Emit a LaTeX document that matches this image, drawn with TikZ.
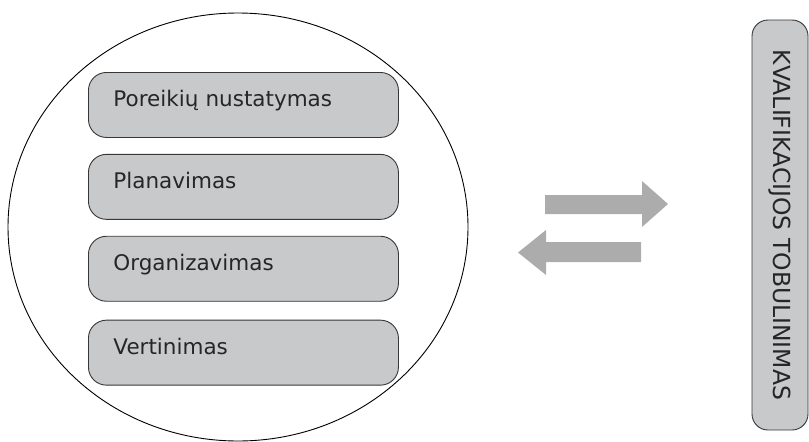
\documentclass[tikz,border=0pt]{standalone}
\usepackage{fontspec}
\setmainfont{DejaVu Sans}
\usepackage{tikz}
\usetikzlibrary{positioning,shapes.geometric}
\usepackage{xcolor}
\definecolor{boxgray}{RGB}{200,201,203}
\definecolor{edgegray}{RGB}{55,55,55}
\definecolor{arrowgray}{RGB}{172,172,172}

\begin{document}
\begin{tikzpicture}[x=1pt, y=-1pt, node distance=16pt,
  stage/.style={draw=edgegray, fill=boxgray, rounded corners=18pt, line width=0.9pt,
    minimum height=65pt, text width=260pt, inner xsep=25pt, inner ysep=0pt,
    align=left, text height=0.6em, text depth=0.25em, text=black!85,
    font=\fontsize{21.5}{24}\selectfont},
  goal/.style={draw=edgegray, fill=boxgray, rounded corners=16pt, line width=0.9pt,
    minimum width=410pt, minimum height=56pt, inner sep=0pt, text=black!85,
    font=\fontsize{23.5}{26}\selectfont},
  flow/.style={fill=arrowgray}]
\useasboundingbox (0,0) rectangle (809,442);
\node[draw, ellipse, line width=0.9pt, minimum width=460pt, minimum height=428pt,
  inner sep=0pt] (cycle) at (238,227) {};
\node[stage, anchor=north west] (needs) at (88,72) {Poreikių nustatymas};
\node[stage, below=of needs] (plan) {Planavimas};
\node[stage, below=of plan] (organise) {Organizavimas};
\node[stage, below=18pt of organise] (assess) {Vertinimas};
\node[goal, rotate=-90] (growth) at (780,225) {KVALIFIKACIJOS TOBULINIMAS};
% two way exchange
\fill[flow] (545,195) -- (642,195) -- (642,181) -- (668,204) -- (642,227)
  -- (642,214) -- (545,214) -- cycle;
\fill[flow] (641,242) -- (546,242) -- (546,230) -- (518,252.5) -- (546,275)
  -- (546,262) -- (641,262) -- cycle;
\end{tikzpicture}
\end{document}
